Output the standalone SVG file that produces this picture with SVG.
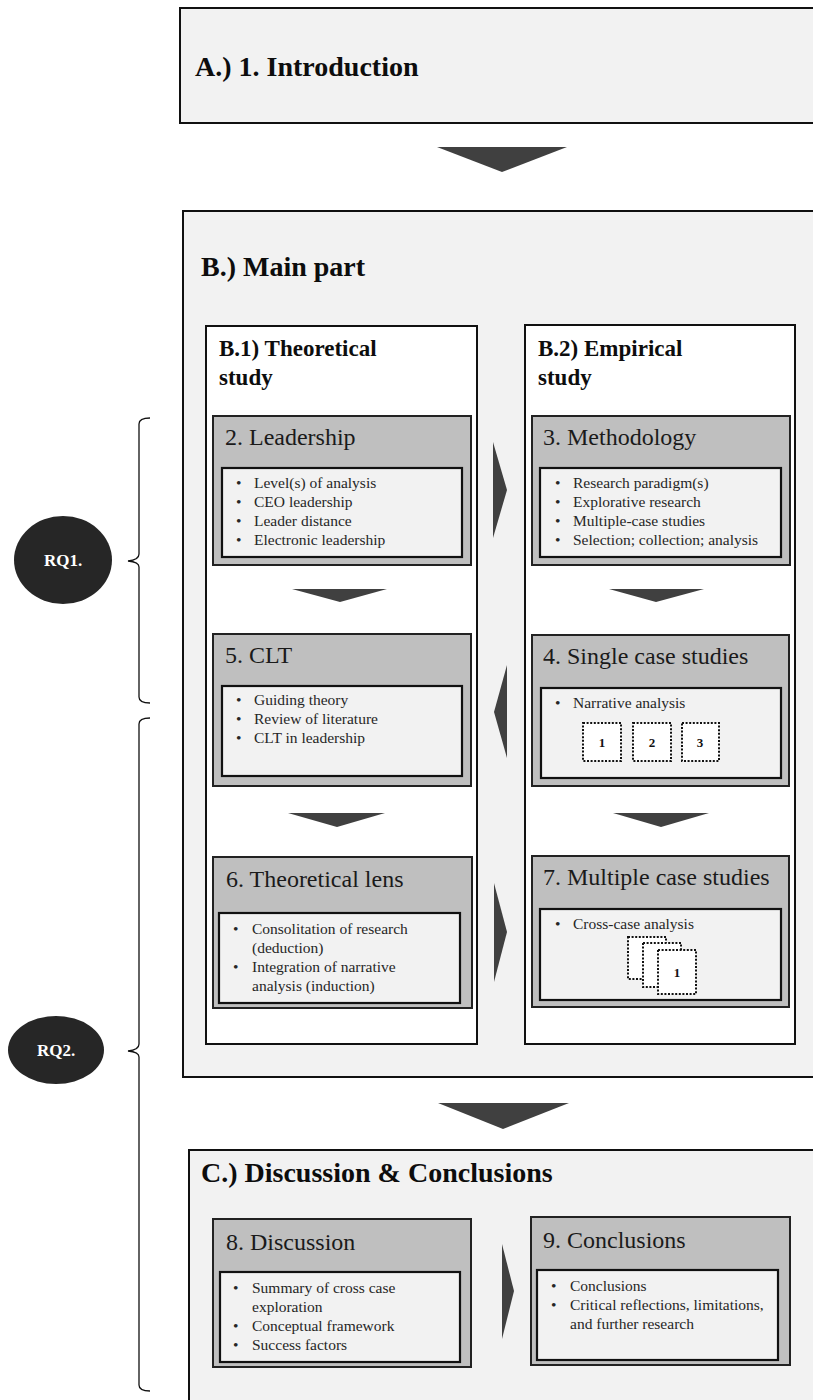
<svg xmlns="http://www.w3.org/2000/svg" width="813" height="1400" viewBox="0 0 813 1400">
  <style>
    .section { fill: #f2f2f2; stroke: #111; stroke-width: 2; }
    .column { fill: #ffffff; stroke: #111; stroke-width: 2; }
    .chapter { fill: #bfbfbf; stroke: #222; stroke-width: 2; }
    .inner { fill: #f2f2f2; stroke: #111; stroke-width: 2.2; }
    .case { fill: #ffffff; stroke: #111; stroke-width: 2; stroke-dasharray: 2 1.6; }
    .arrow { fill: #404040; }
    .brace { fill: none; stroke: #111; stroke-width: 1.3; }
    .rq { fill: #262626; }
    .h1 { font-family: "Liberation Serif", "Times New Roman", serif; font-weight: bold; font-size: 28px; fill: #0d0d0d; }
    .h2 { font-family: "Liberation Serif", "Times New Roman", serif; font-weight: bold; font-size: 23px; fill: #0d0d0d; }
    .title { font-family: "Liberation Serif", "Times New Roman", serif; font-size: 24px; fill: #1a1a1a; }
    .item { font-family: "Liberation Serif", "Times New Roman", serif; font-size: 15.5px; fill: #262626; }
    .num { font-family: "Liberation Serif", "Times New Roman", serif; font-weight: bold; font-size: 13px; fill: #111; text-anchor: middle; }
    .rqtext { font-family: "Liberation Serif", "Times New Roman", serif; font-weight: bold; font-size: 17px; fill: #ffffff; text-anchor: middle; }
  </style>

  <!-- A: introduction -->
  <g id="intro">
    <rect class="section" x="180" y="8" width="640" height="115"/>
    <text class="h1" x="195" y="76">A.) 1. Introduction</text>
  </g>

  <!-- B: main part with two columns -->
  <g id="main-part">
    <rect class="section" x="183" y="211" width="640" height="866"/>
    <text class="h1" x="201" y="276">B.) Main part</text>
  </g>

  <g id="theoretical-study">
    <rect class="column" x="206" y="326" width="271" height="718"/>
    <text class="h2" x="219" y="356">B.1) Theoretical</text>
    <text class="h2" x="219" y="385">study</text>
  </g>

  <g id="empirical-study">
    <rect class="column" x="525" y="325" width="270" height="719"/>
    <text class="h2" x="538" y="356">B.2) Empirical</text>
    <text class="h2" x="538" y="385">study</text>
  </g>

  <g id="ch2-leadership">
    <rect class="chapter" x="213" y="416" width="258" height="149"/>
    <text class="title" x="225" y="445">2. Leadership</text>
    <rect class="inner" x="222" y="468" width="240" height="89"/>
    <text class="item" x="236" y="488">•</text><text class="item" x="254" y="488">Level(s) of analysis</text>
    <text class="item" x="236" y="507">•</text><text class="item" x="254" y="507">CEO leadership</text>
    <text class="item" x="236" y="526">•</text><text class="item" x="254" y="526">Leader  distance</text>
    <text class="item" x="236" y="545">•</text><text class="item" x="254" y="545">Electronic leadership</text>
  </g>

  <g id="ch3-methodology">
    <rect class="chapter" x="532" y="416" width="258" height="149"/>
    <text class="title" x="543" y="445">3. Methodology</text>
    <rect class="inner" x="540" y="468" width="241" height="89"/>
    <text class="item" x="555" y="488">•</text><text class="item" x="573" y="488">Research paradigm(s)</text>
    <text class="item" x="555" y="507">•</text><text class="item" x="573" y="507">Explorative research</text>
    <text class="item" x="555" y="526">•</text><text class="item" x="573" y="526">Multiple-case studies</text>
    <text class="item" x="555" y="545">•</text><text class="item" x="573" y="545">Selection; collection; analysis</text>
  </g>

  <g id="ch5-clt">
    <rect class="chapter" x="213" y="634" width="258" height="152"/>
    <text class="title" x="225" y="663">5. CLT</text>
    <rect class="inner" x="222" y="686" width="240" height="90"/>
    <text class="item" x="236" y="705">•</text><text class="item" x="254" y="705">Guiding theory</text>
    <text class="item" x="236" y="724">•</text><text class="item" x="254" y="724">Review of literature</text>
    <text class="item" x="236" y="743">•</text><text class="item" x="254" y="743">CLT  in leadership</text>
  </g>

  <g id="ch4-single-case">
    <rect class="chapter" x="532" y="635" width="257" height="151"/>
    <text class="title" x="543" y="664">4. Single  case  studies</text>
    <rect class="inner" x="541" y="688" width="240" height="90"/>
    <text class="item" x="555" y="708">•</text><text class="item" x="573" y="708">Narrative analysis</text>
    <rect class="case" x="583" y="723" width="38" height="38"/>
    <text class="num" x="602" y="747">1</text>
    <rect class="case" x="633" y="723" width="38" height="38"/>
    <text class="num" x="652" y="747">2</text>
    <rect class="case" x="682" y="723" width="37" height="38"/>
    <text class="num" x="700" y="747">3</text>
  </g>

  <g id="ch6-theoretical-lens">
    <rect class="chapter" x="213" y="857" width="259" height="151"/>
    <text class="title" x="226" y="887">6. Theoretical  lens</text>
    <rect class="inner" x="219" y="913" width="241" height="90"/>
    <text class="item" x="233" y="934">•</text><text class="item" x="252" y="934">Consolitation of research</text>
    <text class="item" x="252" y="953">(deduction)</text>
    <text class="item" x="233" y="972">•</text><text class="item" x="252" y="972">Integration  of narrative</text>
    <text class="item" x="252" y="991">analysis  (induction)</text>
  </g>

  <g id="ch7-multiple-case">
    <rect class="chapter" x="532" y="856" width="257" height="151"/>
    <text class="title" x="543" y="885">7. Multiple case  studies</text>
    <rect class="inner" x="540" y="909" width="241" height="91"/>
    <text class="item" x="555" y="929">•</text><text class="item" x="573" y="929">Cross-case analysis</text>
    <rect class="case" x="628" y="937" width="38" height="42"/>
    <rect class="case" x="643" y="943" width="38" height="44"/>
    <rect class="case" x="658" y="950" width="38" height="44"/>
    <text class="num" x="677" y="977">1</text>
  </g>

  <!-- C: discussion and conclusions -->
  <g id="discussion-conclusions">
    <rect class="section" x="189" y="1150" width="640" height="270"/>
    <text class="h1" x="201" y="1182">C.) Discussion &amp; Conclusions</text>
  </g>

  <g id="ch8-discussion">
    <rect class="chapter" x="213" y="1219" width="258" height="148"/>
    <text class="title" x="226" y="1250">8. Discussion</text>
    <rect class="inner" x="220" y="1272" width="240" height="90"/>
    <text class="item" x="233" y="1293">•</text><text class="item" x="252" y="1293">Summary of cross case</text>
    <text class="item" x="252" y="1312">exploration</text>
    <text class="item" x="233" y="1331">•</text><text class="item" x="252" y="1331">Conceptual framework</text>
    <text class="item" x="233" y="1350">•</text><text class="item" x="252" y="1350">Success  factors</text>
  </g>

  <g id="ch9-conclusions">
    <rect class="chapter" x="531" y="1217" width="259" height="148"/>
    <text class="title" x="543" y="1248">9. Conclusions</text>
    <rect class="inner" x="537" y="1270" width="241" height="90"/>
    <text class="item" x="551" y="1291">•</text><text class="item" x="570" y="1291">Conclusions</text>
    <text class="item" x="551" y="1310">•</text><text class="item" x="570" y="1310">Critical reflections, limitations,</text>
    <text class="item" x="570" y="1329">and further research</text>
  </g>

  <!-- research questions -->
  <g id="rq1">
    <ellipse class="rq" cx="63" cy="560" rx="49" ry="44"/>
    <text class="rqtext" x="63" y="566">RQ1.</text>
  </g>
  <g id="rq2">
    <ellipse class="rq" cx="56" cy="1050" rx="48" ry="34"/>
    <text class="rqtext" x="56" y="1056">RQ2.</text>
  </g>

  <!-- connectors: flow arrows and braces -->
  <g id="connectors">
    <polygon class="arrow" points="437,147 567,147 502,172"/>
    <polygon class="arrow" points="493,442 507,490 493,538"/>
    <polygon class="arrow" points="292,589 387,589 340,602"/>
    <polygon class="arrow" points="609,589 704,589 656,602"/>
    <polygon class="arrow" points="507,665 494,712 507,758"/>
    <polygon class="arrow" points="288,813 385,813 337,827"/>
    <polygon class="arrow" points="613,813 709,813 661,827"/>
    <polygon class="arrow" points="494,883 507,932 494,982"/>
    <polygon class="arrow" points="438,1103 569,1103 503,1129"/>
    <polygon class="arrow" points="502,1244 514,1291 502,1339"/>

    <path class="brace" d="M150,418 Q139,418 139,424 L139,554 Q139,560 128,561 Q139,562 139,567 L139,697 Q139,703 150,703"/>
    <path class="brace" d="M150,718 Q139,718 139,724 L139,1044 Q139,1050 128,1051 Q139,1052 139,1057 L139,1385 Q139,1391 150,1391"/>
  </g>
</svg>
